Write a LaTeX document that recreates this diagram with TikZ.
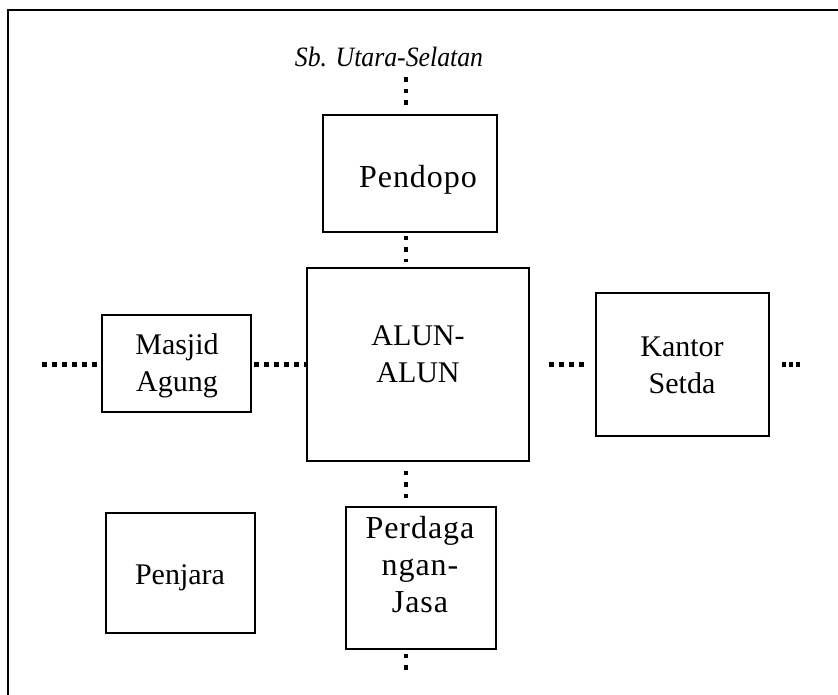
\documentclass[tikz,border=0pt]{standalone}
\usepackage{fontspec}
\setmainfont{Liberation Serif}
\begin{document}
\begin{tikzpicture}[x=1pt,y=-1pt,
  box/.style={draw,line width=1.8pt,rectangle,inner sep=0pt},
  txt/.style={inner sep=0pt,align=center,font=\fontsize{30}{37}\selectfont},
  widetxt/.style={txt,font=\fontsize{32}{37}\selectfont\addfontfeature{LetterSpace=3}},
  hdots/.style={line width=5pt,dash pattern=on 5pt off 5pt},
  rdots/.style={line width=5pt,dash pattern=on 4pt off 3pt},
  vdots/.style={line width=4.5pt,dash pattern=on 4.5pt off 7pt}]
\useasboundingbox (0,0) rectangle (838,695);
\draw[line width=2.5pt] (8,695) -- (8,10) -- (838,10);
\node[inner sep=0pt,font=\itshape\fontsize{28}{30}\selectfont\addfontfeature{FakeStretch=0.92}] (title) at (389,57) {Sb. Utara-Selatan};
% boxes
\node[box,minimum width=174pt,minimum height=117pt] (pendopo) at (410,173.5) {};
\node[box,minimum width=222pt,minimum height=193pt] (alun) at (418,364.5) {};
\node[box,minimum width=149pt,minimum height=97pt] (masjid) at (176.5,363.5) {};
\node[box,minimum width=173pt,minimum height=143pt] (kantor) at (682.5,364.5) {};
\node[box,minimum width=150pt,minimum height=142pt] (perdag) at (421,578) {};
\node[box,minimum width=149pt,minimum height=120pt] (penjara) at (180.5,573) {};
% texts
\node[widetxt] (pendopoT) at (418,180) {Pendopo};
\node[txt] (alunT) at (418,354) {ALUN-\\ALUN};
\node[txt] (masjidT) at (177,366) {Masjid\\Agung};
\node[txt] (kantorT) at (682,365) {Kantor\\Setda};
\node[widetxt] (perdagT) at (420,565) {Perdaga\\ngan-\\Jasa};
\node[txt] (penjaraT) at (180,578) {Penjara};
% connectors
\coordinate (ax) at (406,0);
\coordinate (wl) at (42,364);
\coordinate (er) at (800,364);
\coordinate (sb) at (406,670);
\draw[vdots,shorten <=10pt,shorten >=5pt] (title.south -| ax) -- (pendopo.north -| ax);
\draw[vdots,shorten <=3pt,shorten >=5pt] (pendopo.south -| ax) -- (alun.north -| ax);
\draw[vdots,shorten <=9pt,shorten >=6pt] (alun.south -| ax) -- (perdag.north -| ax);
\draw[vdots,shorten <=4pt] (perdag.south -| ax) -- (sb);
\draw[hdots] (wl) -- (masjid.west |- wl);
\draw[hdots,shorten <=2pt] (masjid.east |- wl) -- (alun.west |- wl);
\draw[hdots,shorten <=19pt,shorten >=8pt] (alun.east |- wl) -- (kantor.west |- wl);
\draw[rdots,shorten <=12pt] (kantor.east |- er) -- (er);
\end{tikzpicture}
\end{document}
